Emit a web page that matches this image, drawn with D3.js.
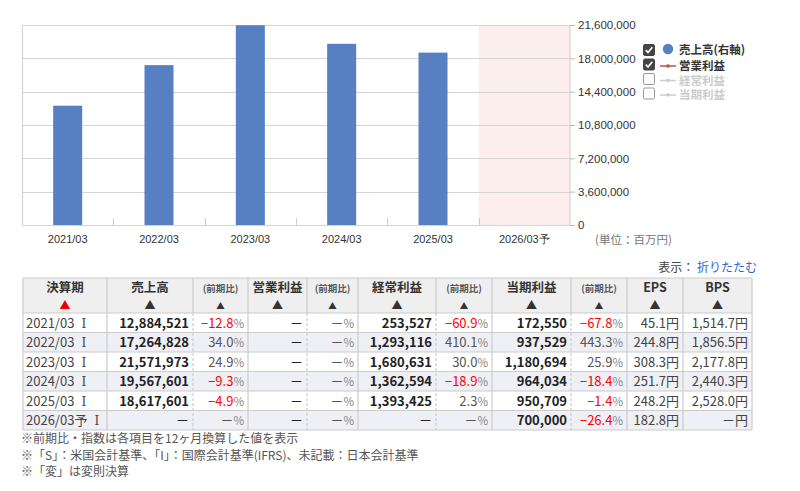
<!DOCTYPE html>
<html>
<head>
<meta charset="utf-8">
<script src="https://cdn.jsdelivr.net/npm/d3@7"></script>
<style>
  body { margin: 0; background: #fff; }
  svg { font-family: "Noto Sans CJK JP", "DejaVu Sans", sans-serif; }
</style>
</head>
<body>
<div id="chart"></div>
<script>
// chart data
const categories = ["2021/03", "2022/03", "2023/03", "2024/03", "2025/03", "2026/03予"];
const sales = [12884521, 17264828, 21571973, 19567601, 18617601, null];
const opProfit = [null, null, null, null, null, null];
const yTicks = [0, 3600000, 7200000, 10800000, 14400000, 18000000, 21600000];

// table data
const periods = ["2021/03 I", "2022/03 I", "2023/03 I", "2024/03 I", "2025/03 I", "2026/03予 I"];
const salesYoY = [-12.8, 34.0, 24.9, -9.3, -4.9, null];
const opYoY = [null, null, null, null, null, null];
const ordProfit = [253527, 1293116, 1680631, 1362594, 1393425, null];
const ordYoY = [-60.9, 410.1, 30.0, -18.9, 2.3, null];
const netProfit = [172550, 937529, 1180694, 964034, 950709, 700000];
const netYoY = [-67.8, 443.3, 25.9, -18.4, -1.4, -26.4];
const eps = [45.1, 244.8, 308.3, 251.7, 248.2, 182.8];
const bps = [1514.7, 1856.5, 2177.8, 2440.3, 2528.0, null];

const legendItems = [
  { label: "売上高(右軸)", checked: true, type: "dot", color: "#5680c1" },
  { label: "営業利益", checked: true, type: "line", color: "#c0504d" },
  { label: "経常利益", checked: false, type: "line", color: "#ccc" },
  { label: "当期利益", checked: false, type: "line", color: "#ccc" }
];

const W = 800, H = 491;
const plot = { left: 22, top: 25, right: 570, bottom: 225 };

const svg = d3.select("#chart").append("svg")
  .attr("width", W).attr("height", H);

const x = d3.scaleBand()
  .domain(categories)
  .range([plot.left, plot.right]);

const y = d3.scaleLinear()
  .domain([0, 21600000])
  .range([plot.bottom, plot.top]);

// forecast band
svg.append("rect")
  .attr("x", x("2026/03予"))
  .attr("y", plot.top)
  .attr("width", x.bandwidth())
  .attr("height", plot.bottom - plot.top)
  .attr("fill", "#fdeeee");

// gridlines
svg.append("g")
  .selectAll("line")
  .data(yTicks)
  .join("line")
  .attr("x1", plot.left)
  .attr("x2", plot.right)
  .attr("y1", d => Math.round(y(d)) + 0.5)
  .attr("y2", d => Math.round(y(d)) + 0.5)
  .attr("stroke", "#d4d4d4")
  .attr("stroke-width", 1.2);

// left border
svg.append("line")
  .attr("x1", plot.left + 0.5).attr("x2", plot.left + 0.5)
  .attr("y1", plot.top).attr("y2", plot.bottom)
  .attr("stroke", "#d4d4d4").attr("stroke-width", 1.2);

// bars
svg.append("g")
  .selectAll("rect")
  .data(categories.map((c, i) => ({ c, v: sales[i] })).filter(d => d.v != null))
  .join("rect")
  .attr("x", d => x(d.c) + x.bandwidth() / 2 - 14.5)
  .attr("width", 29)
  .attr("y", d => y(d.v))
  .attr("height", d => y(0) - y(d.v))
  .attr("fill", "#5680c1");

// operating profit line (no values reported)
const line = d3.line()
  .defined(d => d != null)
  .x((d, i) => x(categories[i]) + x.bandwidth() / 2)
  .y(d => y(d));
svg.append("path")
  .datum(opProfit)
  .attr("fill", "none")
  .attr("stroke", "#c0504d")
  .attr("d", line);

// bottom axis
const xAxisG = svg.append("g")
  .attr("transform", `translate(0,${plot.bottom})`)
  .call(d3.axisBottom(x).tickSize(0).tickPadding(10));
xAxisG.select(".domain").attr("stroke", "#d4d4d4").attr("stroke-width", 1.2);
xAxisG.selectAll(".tick text")
  .attr("fill", "#333")
  .style("font-size", "11px");

// category separators
svg.append("g")
  .selectAll("line")
  .data(categories.slice(1))
  .join("line")
  .attr("x1", d => Math.round(x(d)) + 0.5)
  .attr("x2", d => Math.round(x(d)) + 0.5)
  .attr("y1", plot.bottom - 7)
  .attr("y2", plot.bottom)
  .attr("stroke", "#ccc");

// right axis
const yAxisG = svg.append("g")
  .attr("transform", `translate(${plot.right},0)`)
  .call(d3.axisRight(y).tickValues(yTicks).tickSize(5).tickPadding(3)
    .tickFormat(d3.format(",")));
yAxisG.select(".domain").attr("stroke", "#d4d4d4").attr("stroke-width", 1.2)
  .attr("d", `M0,${plot.top}V${plot.bottom}`);
yAxisG.selectAll(".tick line").attr("stroke", "#bbb");
yAxisG.selectAll(".tick text")
  .attr("fill", "#333")
  .style("font-size", "11.5px");

svg.append("text")
  .attr("x", 595)
  .attr("y", 244)
  .attr("fill", "#777")
  .style("font-size", "11.5px")
  .text("(単位：百万円)");

// legend
const legend = svg.append("g").attr("transform", "translate(643,44)");
legendItems.forEach((d, i) => {
  const g = legend.append("g").attr("transform", `translate(0,${i * 14.5})`);
  g.append("rect")
    .attr("x", 0.5).attr("y", 0.5)
    .attr("width", 11).attr("height", 11)
    .attr("rx", 1.5)
    .attr("fill", d.checked ? "#444" : "#fff")
    .attr("stroke", d.checked ? "#444" : "#999");
  if (d.checked) {
    g.append("path")
      .attr("d", "M2.8,6.2 L5,8.5 L9.3,3.3")
      .attr("fill", "none")
      .attr("stroke", "#fff")
      .attr("stroke-width", 1.8);
  }
  if (d.type === "dot") {
    g.append("circle").attr("cx", 25).attr("cy", 5).attr("r", 5.2).attr("fill", d.color);
  } else {
    g.append("line").attr("x1", 17).attr("x2", 33).attr("y1", 7.5).attr("y2", 7.5)
      .attr("stroke", d.color).attr("stroke-width", 1.5);
    g.append("circle").attr("cx", 25).attr("cy", 7.5).attr("r", 1.8).attr("fill", d.color);
  }
  g.append("text")
    .attr("x", 36)
    .attr("y", d.type === "dot" ? 9.5 : 11.5)
    .attr("fill", d.checked ? "#333" : "#ccc")
    .style("font-size", "11.5px")
    .style("font-weight", "bold")
    .text(d.label);
});

// ---------- table ----------
const colX = [23, 107, 193, 248, 307, 358, 436, 492, 571, 627, 683, 752];
const headerTop = 278, headerH = 35, rowH = 19.5;
const headers = [
  { t: "決算期", small: false, red: true },
  { t: "売上高", small: false },
  { t: "(前期比)", small: true },
  { t: "営業利益", small: false },
  { t: "(前期比)", small: true },
  { t: "経常利益", small: false },
  { t: "(前期比)", small: true },
  { t: "当期利益", small: false },
  { t: "(前期比)", small: true },
  { t: "EPS", small: false },
  { t: "BPS", small: false }
];

const fmtInt = d3.format(",");
const fmt1 = d3.format(",.1f");

const columns = [
  { kind: "label", vals: periods },
  { kind: "value", vals: sales },
  { kind: "pct", vals: salesYoY },
  { kind: "value", vals: opProfit },
  { kind: "pct", vals: opYoY },
  { kind: "value", vals: ordProfit },
  { kind: "pct", vals: ordYoY },
  { kind: "value", vals: netProfit },
  { kind: "pct", vals: netYoY },
  { kind: "yen", vals: eps },
  { kind: "yen", vals: bps }
];

const tbl = svg.append("g");

// header background
tbl.append("rect")
  .attr("x", colX[0]).attr("y", headerTop)
  .attr("width", colX[11] - colX[0]).attr("height", headerH)
  .attr("fill", "#efefef");

// row backgrounds
periods.forEach((p, r) => {
  tbl.append("rect")
    .attr("x", colX[0]).attr("y", headerTop + headerH + r * rowH)
    .attr("width", colX[11] - colX[0]).attr("height", rowH)
    .attr("fill", r % 2 === 1 ? "#efeff6" : "#fff");
});

const tableBottom = headerTop + headerH + periods.length * rowH;

// horizontal borders
d3.range(periods.length + 2).forEach(i => {
  const yy = i === 0 ? headerTop : headerTop + headerH + (i - 1) * rowH;
  tbl.append("line")
    .attr("x1", colX[0]).attr("x2", colX[11])
    .attr("y1", yy).attr("y2", yy)
    .attr("stroke", "#ccc").attr("stroke-width", 1.2);
});

// vertical borders
colX.forEach((cx, i) => {
  const dashedBody = [2, 4, 6, 8].includes(i);
  tbl.append("line")
    .attr("x1", cx).attr("x2", cx)
    .attr("y1", headerTop).attr("y2", headerTop + headerH)
    .attr("stroke", "#ccc").attr("stroke-width", 1.2);
  tbl.append("line")
    .attr("x1", cx).attr("x2", cx)
    .attr("y1", headerTop + headerH).attr("y2", tableBottom)
    .attr("stroke", "#ccc").attr("stroke-width", 1.2)
    .attr("stroke-dasharray", dashedBody ? "3,2" : null);
});

// header text
headers.forEach((h, i) => {
  const cx = (colX[i] + colX[i + 1]) / 2;
  tbl.append("text")
    .attr("x", cx).attr("y", headerTop + 14)
    .attr("text-anchor", "middle")
    .attr("fill", h.small ? "#555" : "#333")
    .style("font-size", h.small ? "9.5px" : "12.5px")
    .style("font-weight", "bold")
    .text(h.t);
  tbl.append("text")
    .attr("x", cx).attr("y", headerTop + 31)
    .attr("text-anchor", "middle")
    .attr("fill", h.red ? "#e00" : "#333")
    .style("font-size", h.small ? "8.5px" : "11px")
    .text("▲");
});

// body
columns.forEach((col, c) => {
  col.vals.forEach((v, r) => {
    const baseY = headerTop + headerH + r * rowH + 14.5;
    if (col.kind === "label") {
      const parts = v.split(" ");
      const t = tbl.append("text")
        .attr("x", colX[c] + 3).attr("y", baseY)
        .attr("fill", "#444")
        .style("font-size", "13px");
      t.append("tspan").text(parts[0]);
      t.append("tspan").attr("dx", 7)
        .style("font-family", "'DejaVu Serif', serif").style("font-size", "12px").text(parts[1]);
      return;
    }
    const t = tbl.append("text")
      .attr("x", colX[c + 1] - 4).attr("y", baseY)
      .attr("text-anchor", "end")
      .style("font-size", "13px");
    if (col.kind === "value") {
      t.attr("fill", "#222").style("font-weight", v == null ? null : "bold")
        .text(v == null ? "－" : fmtInt(v));
    } else if (col.kind === "pct") {
      t.append("tspan")
        .attr("fill", v == null ? "#555" : (v < 0 ? "#f00" : "#555"))
        .text(v == null ? "－" : fmt1(v));
      t.append("tspan").attr("fill", "#888").style("font-size", "11.5px").text("%");
    } else {
      t.append("tspan").attr("fill", "#444").text(v == null ? "－" : fmt1(v));
      t.append("tspan").attr("fill", "#444").text("円");
    }
  });
});

// toggle text
const tog = svg.append("text")
  .attr("x", 757).attr("y", 272)
  .attr("text-anchor", "end")
  .style("font-size", "12px");
tog.append("tspan").attr("fill", "#444").text("表示： ");
tog.append("tspan").attr("fill", "#3366cc").text("折りたたむ");

// footnotes
const notes = [
  "※前期比・指数は各項目を12ヶ月換算した値を表示",
  "※「S」：米国会計基準、「I」：国際会計基準(IFRS)、未記載：日本会計基準",
  "※「変」は変則決算"
];
svg.append("g")
  .selectAll("text")
  .data(notes)
  .join("text")
  .attr("x", 21)
  .attr("y", (d, i) => 443 + i * 16.5)
  .attr("fill", "#555")
  .style("font-size", "12px")
  .text(d => d);
</script>
</body>
</html>
